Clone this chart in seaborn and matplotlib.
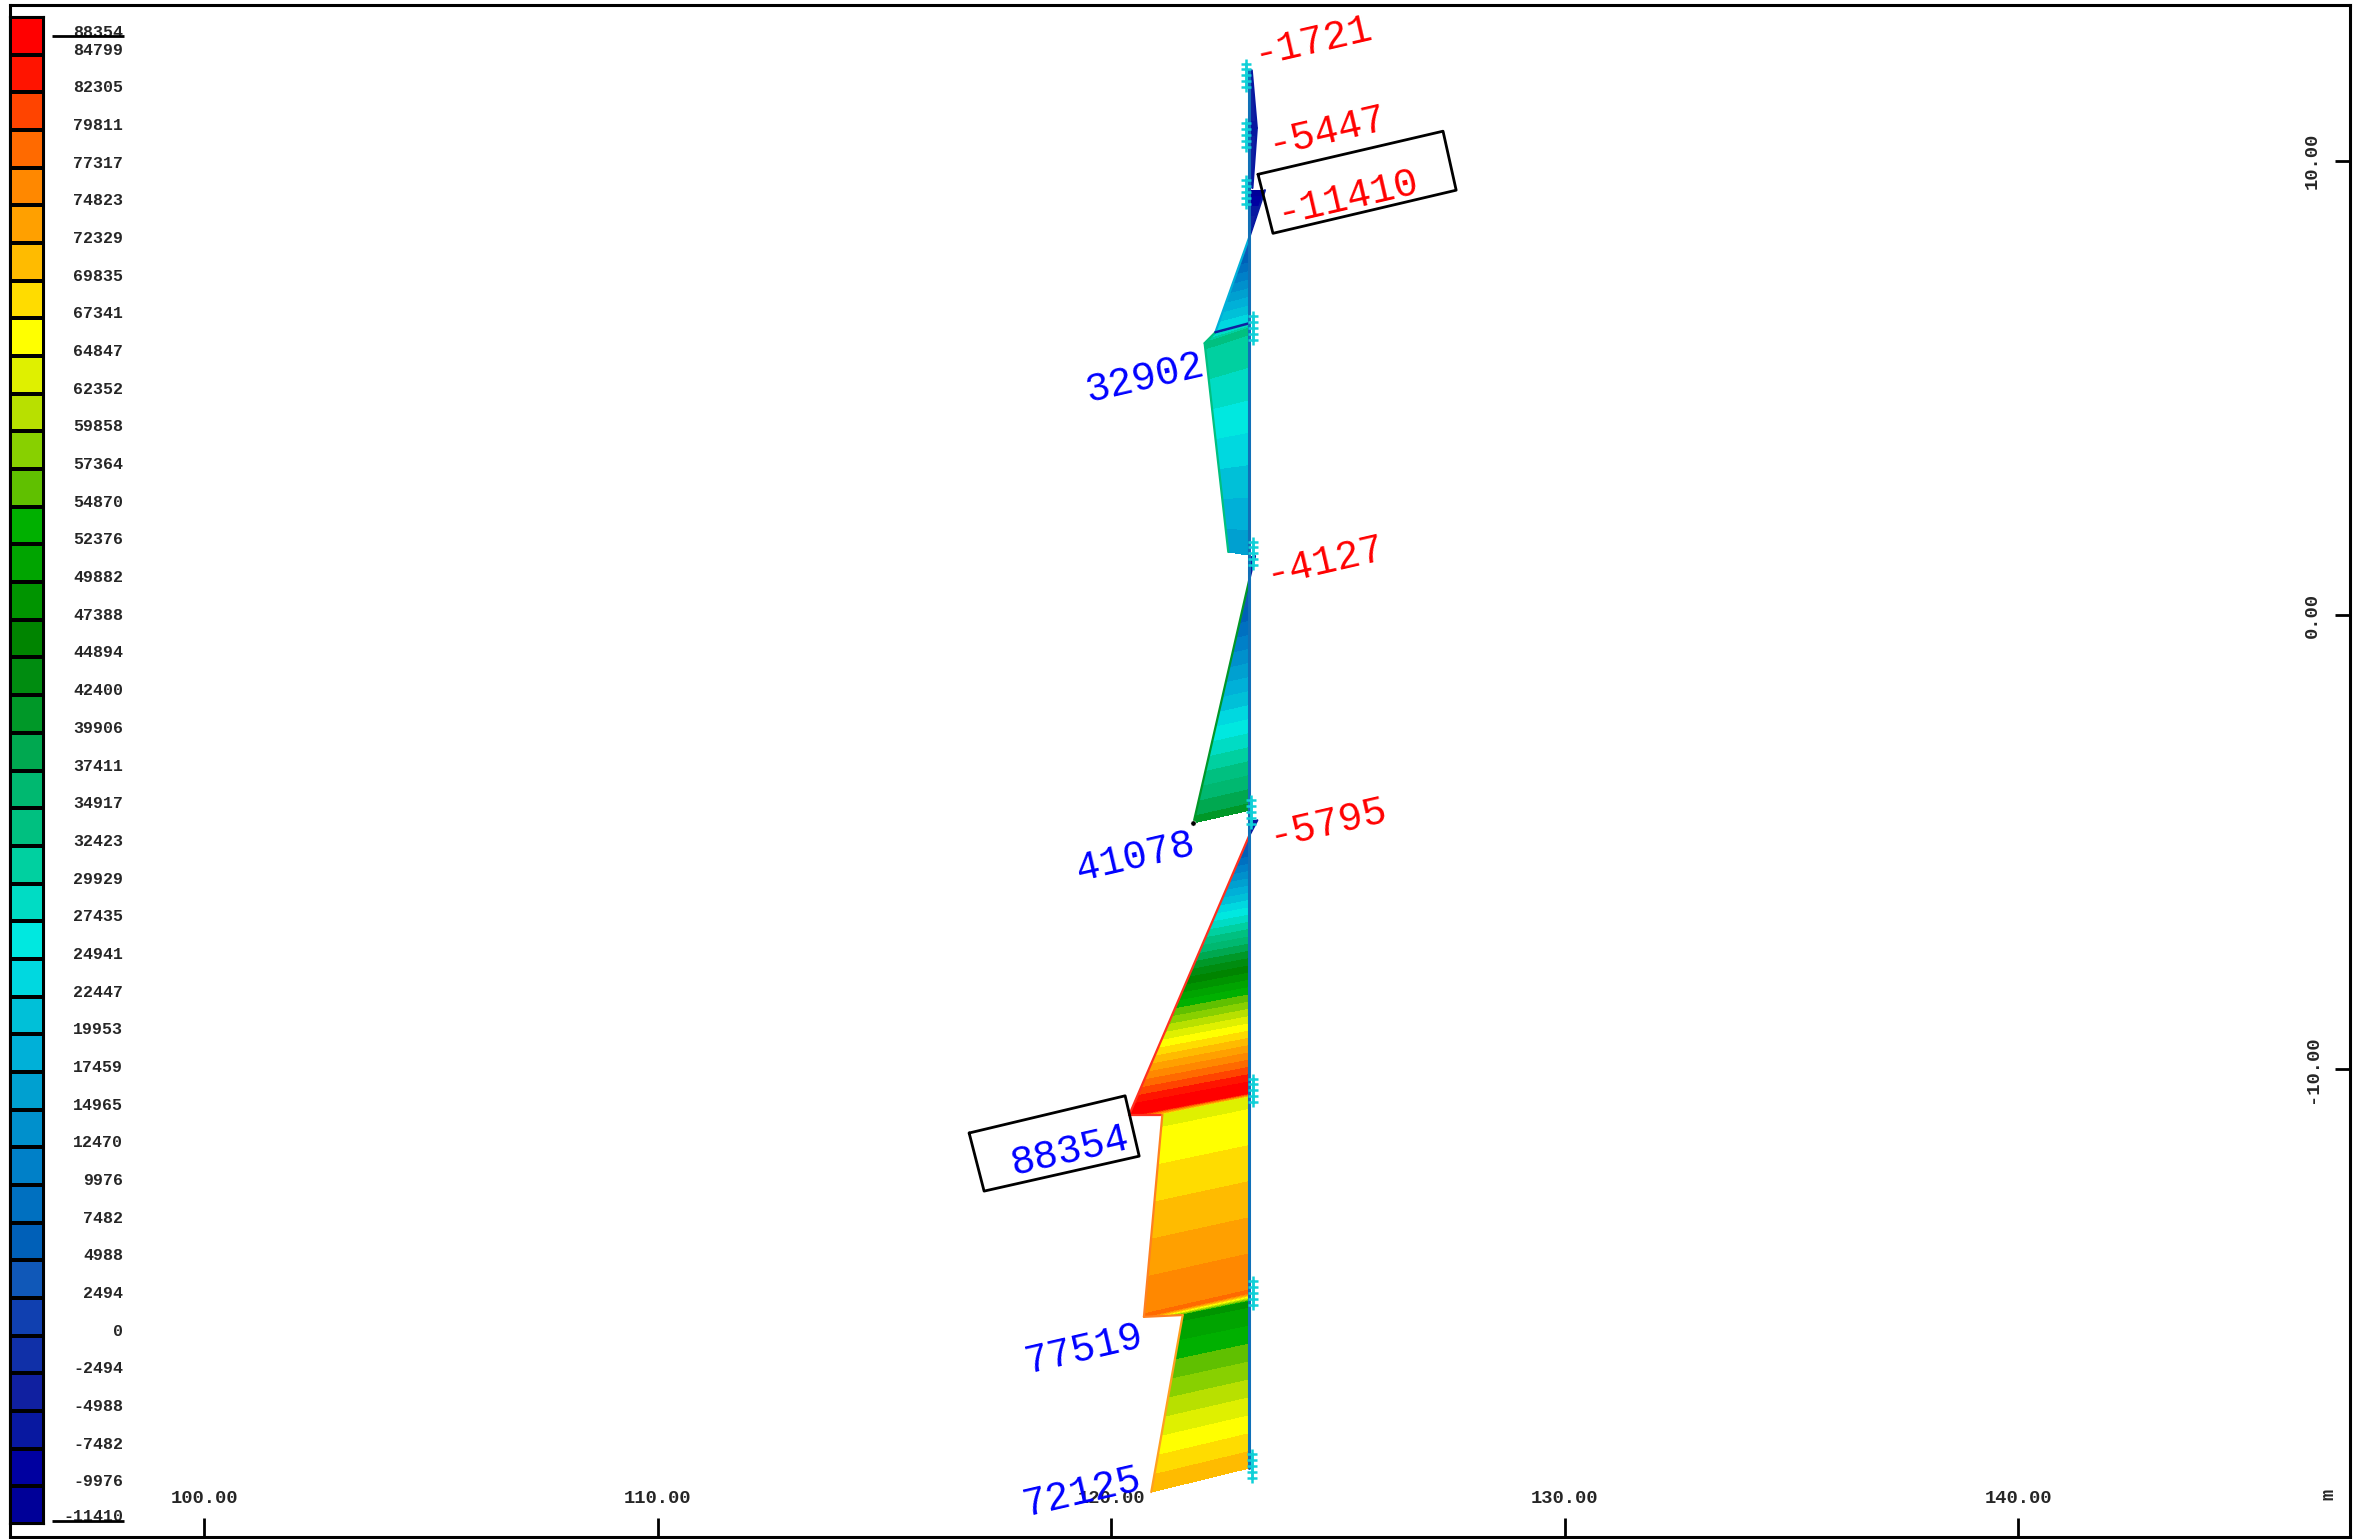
import matplotlib
matplotlib.use("Agg")
import matplotlib.pyplot as plt
from matplotlib.colors import ListedColormap, BoundaryNorm
import numpy as np
import seaborn as sns

# --------- data ---------

# colour scale, top to bottom
legend_labels = [88354, 84799, 82305, 79811, 77317, 74823, 72329, 69835, 67341, 64847,
                 62352, 59858, 57364, 54870, 52376, 49882, 47388, 44894, 42400, 39906,
                 37411, 34917, 32423, 29929, 27435, 24941, 22447, 19953, 17459, 14965,
                 12470, 9976, 7482, 4988, 2494, 0, -2494, -4988, -7482, -9976, -11410]
legend_colors = ["#ff0000", "#ff1400", "#ff4400", "#ff6a00", "#ff8800", "#ffa000", "#ffbb00", "#ffdc00",
                 "#ffff00", "#dff000", "#b8e000", "#88d000", "#60c000", "#00b000", "#00a400", "#009400",
                 "#008400", "#008c10", "#009828", "#00a850", "#00b870", "#00c080", "#00d0a0", "#00dcc4",
                 "#00e8e0", "#00d8e0", "#00c0d8", "#00b0d8", "#00a0d0", "#0090cc", "#0080c8", "#0070c0",
                 "#0060b8", "#1058b8", "#1040b0", "#1030a8", "#1020a0", "#0818a0", "#0000a0", "#000098"]

# diagram pieces along the wall, from the top down (short ones are the jumps between elements)
base_x = 123.05
value_scale = 3.0e-5  # metres of diagram per unit of value
piece_y_right_top = [12.00, 10.73, 9.36, 8.33, 6.43, 6.32, 1.30, 0.79, -4.52, -4.85, -10.51, -10.62, -14.93, -15.13]
piece_y_left_top = [12.00, 10.73, 9.36, 8.33, 6.23, 5.99, 1.30, 0.79, -4.52, -4.85, -11.01, -11.01, -15.46, -15.42]
piece_y_left_bot = [10.73, 9.41, 8.33, 6.23, 5.99, 1.39, 0.79, -4.58, -4.85, -11.01, -11.01, -15.46, -15.42, -19.32]
piece_y_right_bot = [10.73, 9.41, 8.33, 6.43, 6.32, 1.32, 0.79, -4.30, -4.85, -10.51, -10.62, -14.93, -15.13, -18.79]
piece_v_top = [-1721, -5447, -11410, 0, 25000, 32902, -4127, 0, -5795, 0, 88354, 64000, 77519, 49000]
piece_v_bot = [-5447, -2200, 0, 25000, 32902, 15500, 0, 41078, 0, 88354, 64000, 77519, 49000, 72125]
piece_edges = ["#0818a0", "#0818a0", "#0818a0", "#00b0d8", "#00c080", "#00c080", "#0818a0",
               "#009828", "#0818a0", "#ff3020", "#ff3020", "#ff8020", "#ff8020", "#ffa020"]

# supports
support_y = [11.89, 10.57, 9.32, 6.32, 1.36, -4.34, -10.47, -14.93, -18.75]
support_x = [122.98, 122.98, 122.98, 123.12, 123.12, 123.08, 123.12, 123.12, 123.10]

# peak labels
peak_text = ["-1721", "-5447", "-11410", "32902", "-4127", "41078", "-5795", "88354", "77519", "72125"]
peak_x = [124.44, 124.76, 125.21, 120.75, 124.72, 120.53, 124.77, 119.08, 119.40, 119.37]
peak_y = [12.65, 10.66, 9.21, 5.24, 1.20, -5.33, -4.58, -11.79, -16.16, -19.32]
peak_color = ["red", "red", "red", "blue", "red", "blue", "red", "blue", "blue", "blue"]

# boxes round the two extreme values
box_max_x = [116.87, 120.31, 120.62, 117.20, 116.87]
box_max_y = [-11.41, -10.59, -11.92, -12.69, -11.41]
box_min_x = [123.24, 127.32, 127.61, 123.57, 123.24]
box_min_y = [9.71, 10.66, 9.36, 8.41, 9.71]

x_ticks = [100, 110, 120, 130, 140]
y_ticks = [10, 0, -10]

# --------- figure ---------

sns.set_theme(style="white")
plt.rcParams["font.family"] = ["Liberation Mono", "DejaVu Sans Mono"]

W, H = 2358, 1539
fig = plt.figure(figsize=(W / 100, H / 100), dpi=100)
ax = fig.add_axes([10 / W, 2 / H, 2340 / W, 1532 / H])

levels = np.array(legend_labels[::-1], dtype=float)
colors_up = legend_colors[::-1]

# bands of each piece
for i in range(len(piece_v_top)):
    vt, vb = piece_v_top[i], piece_v_bot[i]
    X = np.array([[base_x, base_x - vt * value_scale],
                  [base_x, base_x - vb * value_scale]])
    Y = np.array([[piece_y_right_top[i], piece_y_left_top[i]],
                  [piece_y_right_bot[i], piece_y_left_bot[i]]])
    Z = np.array([[vt, vt], [vb, vb]], dtype=float)
    ax.contourf(X, Y, Z, levels=levels, colors=colors_up, zorder=2 + i * 0.01, antialiased=False)
    sns.lineplot(x=[X[0, 1], X[1, 1]], y=[Y[0, 1], Y[1, 1]], sort=False, estimator=None,
                 color=piece_edges[i], lw=1.6, ax=ax, zorder=3)

# dark line under the first positive piece
sns.lineplot(x=[base_x - 25000 * value_scale, base_x], y=[6.23, 6.43], sort=False, estimator=None,
             color="#1020a0", lw=1.8, ax=ax, zorder=3)

# wall line
sns.lineplot(x=[base_x, base_x], y=[piece_y_right_top[0], piece_y_right_bot[-1]], sort=False,
             estimator=None, color="#1070b8", lw=2.2, ax=ax, zorder=4)

# supports
for sx, sy in zip(support_x, support_y):
    sns.scatterplot(x=[sx] * 5, y=[sy + d for d in (-0.26, -0.13, 0, 0.13, 0.26)], marker="+", s=60,
                    color="#10d0d8", linewidth=1.8, ax=ax, zorder=5, legend=False)

sns.scatterplot(x=[base_x - 41078 * value_scale], y=[-4.58], color="black", s=14, ax=ax, zorder=5, legend=False)

# labels and boxes
for t, x, y, c in zip(peak_text, peak_x, peak_y, peak_color):
    ax.text(x, y, t, color=c, fontsize=29, rotation=13, rotation_mode="anchor", ha="center", va="center", zorder=7)
for bx, by in ((box_max_x, box_max_y), (box_min_x, box_min_y)):
    sns.lineplot(x=bx, y=by, sort=False, estimator=None, color="black", lw=2.0, ax=ax, zorder=6)

ax.set_xlim(95.72, 147.32)
ax.set_ylim(-20.31, 13.44)
ax.set_xlabel("")
ax.set_ylabel("")
ax.set_xticks(x_ticks)
ax.set_xticklabels([f"{v:.2f}" for v in x_ticks], fontsize=13.5, fontweight="bold")
ax.yaxis.tick_right()
ax.set_yticks(y_ticks)
ax.set_yticklabels([f"{v:.2f}" for v in y_ticks], fontsize=13.5, fontweight="bold", rotation=90, va="center")
ax.tick_params(axis="x", direction="in", length=14, width=2, pad=-34, color="black", bottom=True)
ax.tick_params(axis="y", direction="in", length=11, width=2, pad=-33, color="black", right=True)
for s in ax.spines.values():
    s.set_visible(True)
    s.set_color("black")
    s.set_linewidth(2.2)
ax.text(146.85, -19.38, "m", fontsize=13.5, fontweight="bold", rotation=90, ha="center", va="center")

# --------- colour scale ---------

cax = fig.add_axes([10 / W, (H - 1524) / H, 34 / W, 1507 / H])
mids = (np.array(legend_labels[:-1], dtype=float) + np.array(legend_labels[1:], dtype=float)) / 2
sns.heatmap(mids.reshape(-1, 1), cmap=ListedColormap(colors_up), norm=BoundaryNorm(levels, 40), cbar=False,
            linewidths=1.5, linecolor="black", xticklabels=False, ax=cax)
for s in cax.spines.values():
    s.set_visible(True)
    s.set_color("black")
    s.set_linewidth(1.5)

cax.yaxis.tick_right()
legend_pos = [0.6] + [k + 0.08 for k in range(1, 40)] + [40]
cax.set_yticks(legend_pos)
cax.set_yticklabels([str(v) for v in legend_labels], fontsize=12, fontweight="bold", ha="right",
                    va="bottom", rotation=0)
cax.tick_params(axis="y", length=0, pad=57, right=False)
cax.hlines([0.5, 39.92], 1.235, 3.35, color="black", lw=2, clip_on=False, zorder=10)
cax.set_ylim(40, 0)

fig.savefig("out.png", dpi=100)
